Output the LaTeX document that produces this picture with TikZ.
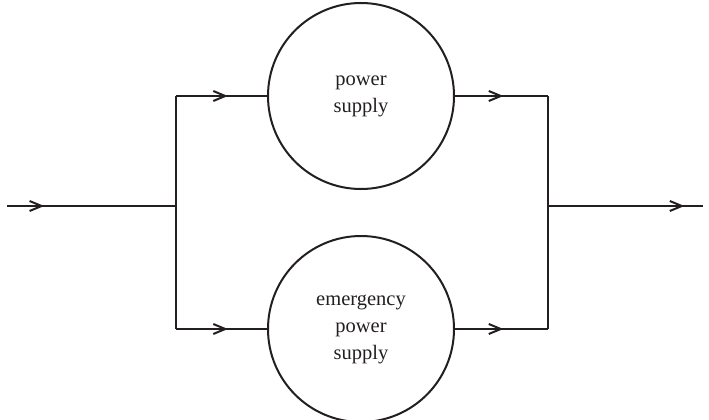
\documentclass[tikz,border=0pt]{standalone}
\usepackage{fontspec}
\setmainfont{Liberation Serif}
\usetikzlibrary{arrows.meta,decorations.markings}
\definecolor{ink}{HTML}{231F20}
\begin{document}
\begin{tikzpicture}[x=1pt,y=-1pt,
  unitblock/.style={circle, draw=ink, line width=2pt, minimum size=186pt,
    inner sep=0pt, align=center, text=ink,
    font=\fontsize{20.5}{27}\selectfont},
  flowline/.style={draw=ink, line width=2pt, line join=miter,
    postaction={decorate},
    decoration={markings, mark=at position #1 with
      {\arrow{Straight Barb[length=12pt,width=10pt]}}}},
  busline/.style={draw=ink, line width=2pt}]
  \useasboundingbox (0,0) rectangle (709,420);

  % the two supply units
  \node[unitblock] (ps)  at (361,96)  {power\\supply};
  \node[unitblock] (eps) at (361,329) {emergency\\power\\supply};

  % ends and junctions
  \coordinate (in)  at (7,206);
  \coordinate (jl)  at (176,206);
  \coordinate (jr)  at (548,206);
  \coordinate (out) at (703,206);
  \coordinate (tl)  at (176,96);
  \coordinate (bl)  at (176,329);
  \coordinate (tr)  at (548,96);
  \coordinate (br)  at (548,329);

  % left and right bus bars
  \draw[busline] (tl) -- (bl);
  \draw[busline] (tr) -- (br);

  % incoming and outgoing lines
  \draw[flowline=0.22] (in) -- (jl);
  \draw[flowline=0.88] (jr) -- (out);

  % branches through the units
  \draw[flowline=0.57] (tl) -- (ps.west);
  \draw[flowline=0.52] (ps.east) -- (tr);
  \draw[flowline=0.57] (bl) -- (eps.west);
  \draw[flowline=0.52] (eps.east) -- (br);
\end{tikzpicture}
\end{document}
